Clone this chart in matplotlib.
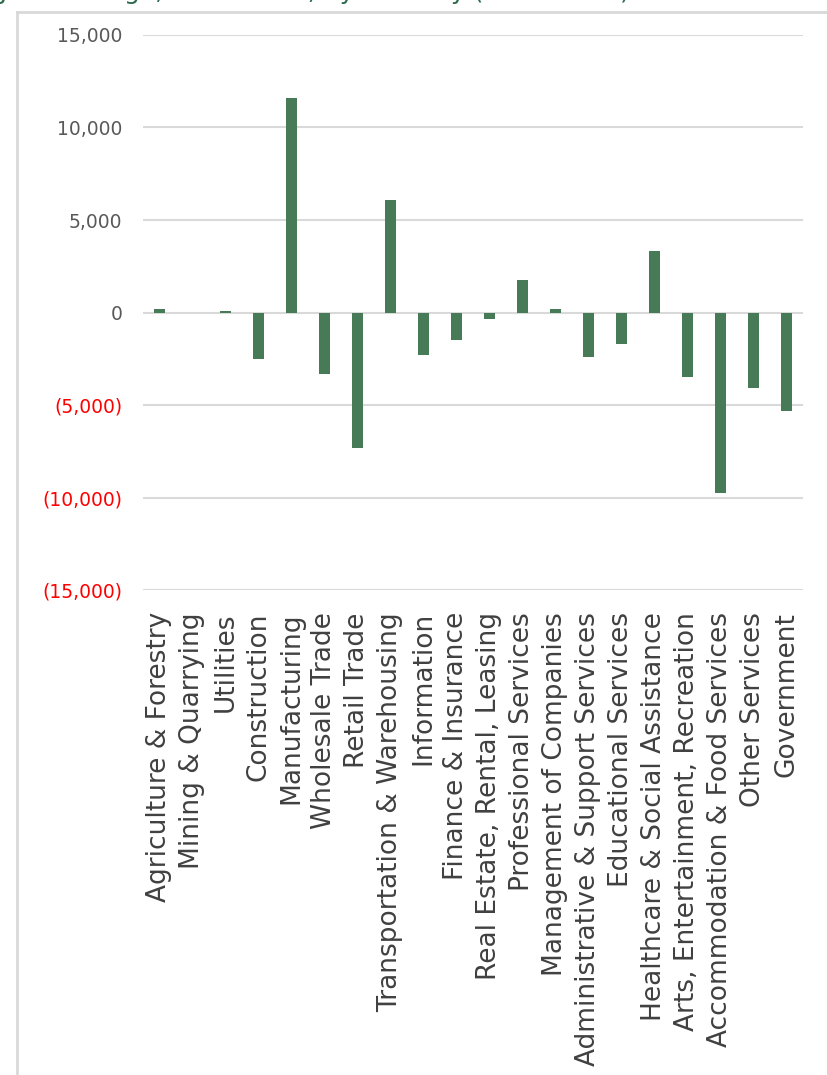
import matplotlib.pyplot as plt
from matplotlib.lines import Line2D
from matplotlib.ticker import FuncFormatter

industries = [
    "Agriculture & Forestry", "Mining & Quarrying", "Utilities", "Construction",
    "Manufacturing", "Wholesale Trade", "Retail Trade", "Transportation & Warehousing",
    "Information", "Finance & Insurance", "Real Estate, Rental, Leasing",
    "Professional Services", "Management of Companies",
    "Administrative & Support Services", "Educational Services",
    "Healthcare & Social Assistance", "Arts, Entertainment, Recreation",
    "Accommodation & Food Services", "Other Services", "Government",
]
job_change = [200, -50, 100, -2500, 11620, -3350, -7300, 6100, -2320, -1500,
              -350, 1730, 200, -2430, -1700, 3350, -3460, -9730, -4100, -5300]
y_ticks = [-15000, -10000, -5000, 0, 5000, 10000, 15000]

bar_color = "#477a56"
grid_color = "#d9d9d9"

fig = plt.figure(figsize=(8.28, 10.75), dpi=100)
ax = fig.add_axes([143 / 828, 1 - 590 / 1075, 660 / 828, 555 / 1075])

x = list(range(len(industries)))
ax.bar(x, job_change, width=0.35, color=bar_color, zorder=3)

ax.set_ylim(-15000, 15000)
ax.set_xlim(-0.5, len(industries) - 0.5)
ax.set_yticks(y_ticks)
ax.yaxis.set_major_formatter(FuncFormatter(
    lambda v, p: "0" if v == 0 else (f"{v:,.0f}" if v > 0 else f"({-v:,.0f})")))
ax.grid(axis="y", color=grid_color, linewidth=1.5, zorder=0)
for s in ax.spines.values():
    s.set_visible(False)
ax.tick_params(axis="both", length=0)
ax.tick_params(axis="y", labelsize=13.5, pad=15)

for lbl, v in zip(ax.get_yticklabels(), y_ticks):
    lbl.set_color("#ff0000" if v < 0 else "#595959")

ax.set_xticks(x)
ax.set_xticklabels(industries, rotation=90, fontsize=19, color="#404040",
                   ha="center", va="top")
ax.tick_params(axis="x", pad=16)

# frame around the chart area
fig.add_artist(Line2D([17 / 828, 17 / 828], [0, 1 - 12 / 1075],
                      transform=fig.transFigure, color=grid_color, linewidth=2))
fig.add_artist(Line2D([17 / 828, 1], [1 - 12 / 1075, 1 - 12 / 1075],
                      transform=fig.transFigure, color=grid_color, linewidth=2))

# title cropped at the very top, as in the source
fig.text(-0.14, 1 + 1 / 1075, "Regional Jobs Change, 2019-2024, by Industry (2019-2024)",
         color="#2e6b4f", fontsize=18, va="baseline", ha="left")

fig.savefig("out.png", dpi=100)
